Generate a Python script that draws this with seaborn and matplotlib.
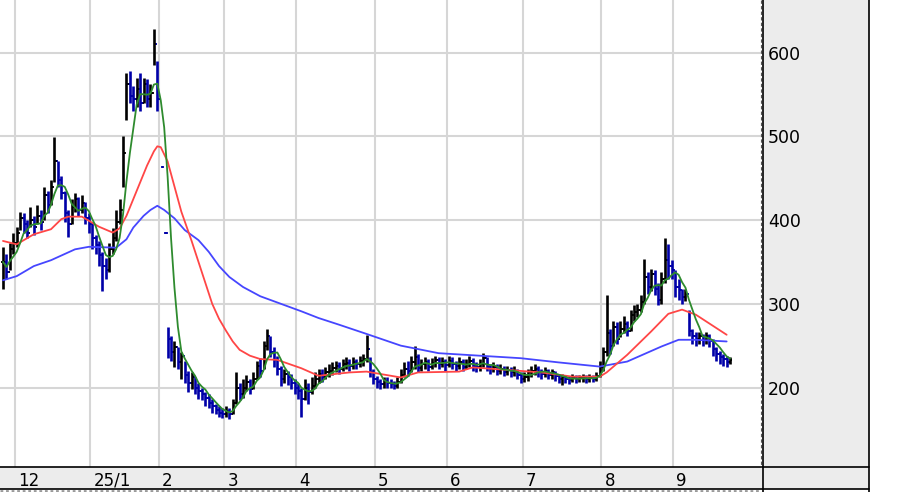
import numpy as np
import pandas as pd
import seaborn as sns
import matplotlib.pyplot as plt
from matplotlib.patches import Rectangle
from matplotlib.lines import Line2D
import matplotlib.transforms as mtransforms

# daily bars (one value per trading day)
close = [350, 338, 365, 372, 385, 402, 395, 385, 400, 392,
         405, 398, 430, 418, 440, 470, 448, 432, 408, 395,
         415, 425, 412, 420, 402, 395, 378, 370, 358, 345,
         340, 365, 378, 398, 412, 480, 562, 548, 545, 556,
         540, 562, 545, 552, 610, 545, 463, 384, 258, 242,
         248, 230, 238, 215, 205, 212, 200, 196, 192, 188,
         182, 178, 173, 170, 168, 172, 168, 182, 200, 192,
         200, 206, 198, 210, 226, 220, 250, 262, 242, 233,
         222, 210, 216, 212, 205, 200, 196, 186, 200, 195,
         202, 210, 216, 212, 218, 220, 223, 226, 222, 228,
         229, 226, 231, 228, 232, 234, 246, 218, 210, 206,
         204, 208, 205, 204, 202, 206, 215, 222, 220, 230,
         236, 223, 228, 231, 225, 229, 233, 228, 231, 227,
         232, 228, 226, 230, 225, 228, 232, 226, 224, 228,
         235, 225, 222, 224, 220, 222, 219, 221, 218, 220,
         215, 210, 212, 218, 220, 222, 218, 216, 220, 215,
         218, 214, 210, 212, 210, 209, 212, 210, 211, 212,
         210, 212, 210, 214, 224, 242, 265, 250, 272, 258,
         270, 276, 268, 286, 290, 292, 302, 332, 320, 336,
         318, 305, 330, 352, 345, 340, 320, 316, 308, 312,
         268, 262, 258, 261, 257, 262, 255, 246, 240, 236,
         234, 230, 233]
high = [368, 360, 372, 385, 392, 410, 408, 400, 415, 405,
        418, 412, 440, 435, 448, 499, 470, 452, 435, 412,
        425, 432, 428, 430, 422, 408, 398, 382, 375, 362,
        355, 372, 390, 412, 425, 500, 575, 578, 560, 570,
        575, 570, 568, 562, 628, 590, 463, 384, 272, 262,
        255, 248, 242, 232, 220, 218, 212, 205, 200, 195,
        192, 186, 180, 178, 175, 178, 176, 186, 219, 205,
        210, 215, 210, 218, 232, 235, 256, 270, 262, 248,
        238, 226, 222, 220, 216, 210, 205, 200, 210, 205,
        212, 218, 222, 222, 224, 228, 230, 232, 230, 234,
        236, 234, 236, 234, 238, 240, 263, 236, 222, 214,
        210, 212, 212, 210, 208, 212, 222, 230, 232, 238,
        249, 240, 234, 236, 234, 235, 238, 236, 236, 234,
        238, 236, 232, 236, 234, 234, 238, 235, 230, 234,
        241, 236, 228, 230, 228, 228, 226, 226, 225, 226,
        222, 218, 218, 222, 226, 228, 226, 222, 225, 222,
        222, 220, 216, 216, 215, 214, 216, 215, 215, 216,
        215, 216, 215, 218, 232, 248, 311, 270, 280, 278,
        280, 285, 280, 292, 298, 300, 310, 353, 338, 342,
        340, 325, 338, 379, 371, 352, 340, 330, 318, 318,
        292, 270, 266, 266, 264, 266, 264, 258, 248, 244,
        240, 238, 237]
low = [318, 330, 340, 360, 368, 388, 385, 378, 392, 382,
       395, 388, 400, 408, 418, 445, 440, 425, 398, 380,
       395, 410, 405, 408, 395, 385, 365, 360, 345, 315,
       330, 338, 360, 375, 395, 440, 520, 540, 530, 535,
       530, 540, 535, 535, 585, 530, 463, 384, 235, 232,
       225, 222, 210, 205, 195, 198, 192, 186, 185, 178,
       175, 170, 168, 165, 164, 165, 163, 168, 180, 185,
       188, 196, 192, 198, 210, 212, 222, 245, 236, 225,
       215, 202, 205, 203, 198, 192, 186, 165, 185, 180,
       192, 200, 205, 206, 210, 212, 215, 218, 216, 220,
       222, 220, 222, 222, 224, 226, 230, 212, 204, 200,
       198, 200, 200, 199, 198, 200, 205, 212, 214, 218,
       222, 218, 220, 222, 220, 222, 224, 222, 224, 220,
       224, 222, 220, 222, 220, 222, 224, 220, 218, 220,
       224, 220, 216, 218, 215, 216, 214, 215, 213, 214,
       210, 205, 206, 208, 212, 215, 212, 210, 212, 210,
       210, 208, 205, 203, 205, 204, 206, 205, 206, 206,
       205, 207, 206, 208, 212, 220, 238, 240, 250, 252,
       260, 265, 262, 268, 280, 284, 290, 300, 312, 315,
       310, 298, 300, 325, 330, 330, 308, 305, 300, 303,
       262, 252, 250, 252, 250, 252, 248, 238, 232, 228,
       226, 225, 228]

# moving averages (25 day red, 75 day blue)
ma25_day = [0, 4, 9, 14, 17, 19, 23, 28, 32, 34, 36, 38, 40, 42, 44, 45, 46,
            48, 50, 52, 55, 57, 59, 61, 63, 65, 67, 69, 72, 75, 80, 87, 92,
            101, 106, 116, 121, 133, 137, 147, 157, 166, 174, 176, 182, 189,
            194, 198, 202, 211]
ma25_val = [375, 371, 383, 389, 401, 404, 404, 392, 385, 390, 405, 425, 445,
            465, 482, 488, 487, 470, 440, 410, 375, 350, 325, 300, 282, 268,
            255, 245, 238, 234, 233, 223, 214, 218, 219, 212, 218, 219, 224,
            221, 218, 213, 213, 218, 239, 267, 288, 293, 287, 263]
ma75_day = [0, 4, 9, 14, 21, 25, 33, 36, 38, 41, 43, 45, 47, 50, 53, 57, 60,
            63, 66, 70, 75, 81, 87, 92, 98, 106, 116, 127, 139, 151, 162, 174,
            182, 192, 197, 202, 211]
ma75_val = [328, 333, 345, 352, 365, 368, 367, 377, 391, 405, 412, 417, 412,
            402, 388, 376, 362, 345, 332, 320, 309, 300, 291, 283, 275, 264,
            250, 241, 238, 235, 230, 225, 231, 249, 257, 257, 255]

month_start = [4, 26, 46, 65, 86, 109, 130, 152, 175, 196]
month_labels = ["12", "25/1", "2", "3", "4", "5", "6", "7", "8", "9"]
price_ticks = [200, 300, 400, 500, 600]

df = pd.DataFrame({"close": close, "high": high, "low": low})
df["day"] = np.arange(len(df))
df["open"] = df["close"].shift(1).fillna(df["close"])
df["ma5"] = df["close"].rolling(5, min_periods=1).mean()
df["color"] = np.where(df["close"] >= df["open"], "#000000", "#0000a8")

ma25 = pd.DataFrame({"day": ma25_day, "val": ma25_val})
ma75 = pd.DataFrame({"day": ma75_day, "val": ma75_val})

sns.set_theme(style="white")
plt.rcParams["font.family"] = ["DejaVu Sans"]

W, H = 911, 492
fig = plt.figure(figsize=(W / 100, H / 100), dpi=100)
fig.patch.set_facecolor("white")

# grey frame: price scale on the right, date strip below
fig.add_artist(Rectangle((763 / W, (H - 489) / H), (869 - 763) / W, 489 / H,
                         transform=fig.transFigure, facecolor="#ececec",
                         edgecolor="none", zorder=-2))
fig.add_artist(Rectangle((0, (H - 489) / H), 869 / W, 22 / H,
                         transform=fig.transFigure, facecolor="#ececec",
                         edgecolor="none", zorder=-2))

ax = fig.add_axes([0, (H - 467) / H, 763 / W, 467 / H])
ax.set_facecolor("white")

# bars
ax.vlines(df["day"], df["low"], df["high"], colors=df["color"], lw=1.9, zorder=3)
ax.hlines(df["open"], df["day"] - 0.7, df["day"], colors=df["color"], lw=1.3, zorder=3)
ax.hlines(df["close"], df["day"], df["day"] + 0.7, colors=df["color"], lw=1.3, zorder=3)

sns.lineplot(data=ma75, x="day", y="val", color="#4646ff", lw=1.3, ax=ax, zorder=4)
sns.lineplot(data=ma25, x="day", y="val", color="#ff4646", lw=1.3, ax=ax, zorder=4)
sns.lineplot(data=df, x="day", y="ma5", color="#2e8b2e", lw=1.3, ax=ax, zorder=5)

ax.set_xlim(-0.87, 221.6)
ax.set_ylim(105.1, 662.7)

ax.set_xticks([m - 0.5 for m in month_start])
ax.set_xticklabels(month_labels)
ax.set_yticks(price_ticks)
ax.set_yticklabels([str(p) for p in price_ticks])
ax.yaxis.tick_right()
ax.tick_params(axis="y", length=0, pad=3.6, labelsize=12.5, labelcolor="black")
ax.tick_params(axis="x", length=0, pad=3.5, labelsize=12, labelcolor="black")
shift = mtransforms.ScaledTranslation(3 / 100, 0, fig.dpi_scale_trans)
for lbl in ax.get_xticklabels():
    lbl.set_horizontalalignment("left")
    lbl.set_transform(lbl.get_transform() + shift)
    lbl.set_family(["Liberation Sans Narrow", "DejaVu Sans"])

ax.grid(True, color="#d6d6d6", lw=1.5)
ax.set_axisbelow(True)
for s in ax.spines.values():
    s.set_visible(False)
ax.set_xlabel("")
ax.set_ylabel("")


def fline(x0, y0, x1, y1, **kw):
    fig.add_artist(Line2D([x0 / W, x1 / W], [1 - y0 / H, 1 - y1 / H],
                          transform=fig.transFigure, **kw))


fline(0, 467, 869, 467, color="black", lw=1.2)
fline(0, 489, 869, 489, color="black", lw=1.2)
fline(763, 0, 763, 492, color="black", lw=1.2)
fline(869, 0, 869, 492, color="black", lw=1.2)
fline(761, 0, 761, 467, color="#555555", lw=0.8, ls=(0, (3, 2)))
fline(0, 491, 761, 491, color="#999999", lw=2, ls=(0, (1, 1)))

fig.savefig("out.png", dpi=100)
